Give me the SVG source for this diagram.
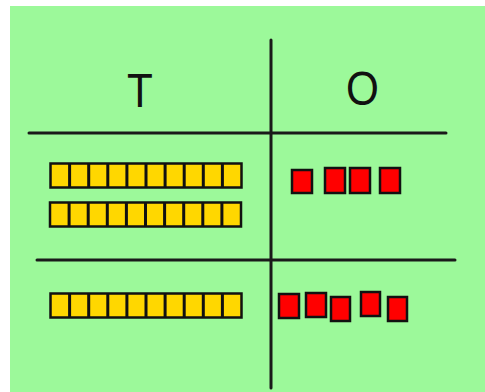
<svg xmlns="http://www.w3.org/2000/svg" width="485" height="392" viewBox="0 0 485 392">
<style>
.ln{stroke:#1a1a1a;stroke-width:3;stroke-linecap:round}
.y{fill:#ffd700;stroke:#111;stroke-width:2.5}
.r{fill:#ff0000;stroke:#111;stroke-width:2.5}
.t{font-family:"Liberation Sans",Arial,sans-serif;font-size:48px;fill:#111;text-anchor:middle}
</style>
<defs>
<g id="bar">
<rect class="y" x="0" y="0" width="191" height="24"/>
<path d="M19.1 0V24M38.2 0V24M57.3 0V24M76.4 0V24M95.5 0V24M114.6 0V24M133.7 0V24M152.8 0V24M171.9 0V24" stroke="#111" stroke-width="3"/>
</g>
</defs>
<rect x="0" y="0" width="485" height="392" fill="#ffffff"/>
<rect x="10" y="6" width="475" height="386" fill="#9cf99a"/>
<g id="connectors">
<line class="ln" x1="271" y1="40" x2="271" y2="388"/>
<line class="ln" x1="29" y1="133" x2="446" y2="133"/>
<line class="ln" x1="37" y1="260" x2="455" y2="260"/>
</g>
<g id="header-t"><text class="t" transform="translate(140,107) scale(0.88,1)">T</text></g>
<g id="header-o"><text class="t" transform="translate(362.5,105) scale(0.88,1)">O</text></g>
<g id="tens-row1">
<use href="#bar" x="50.5" y="163.5"/>
<use href="#bar" x="50" y="202.5"/>
</g>
<g id="ones-row1">
<rect class="r" x="292" y="170" width="20" height="23"/>
<rect class="r" x="325" y="168" width="20" height="25"/>
<rect class="r" x="350" y="168" width="20" height="25"/>
<rect class="r" x="380" y="168" width="20" height="25"/>
</g>
<g id="tens-row2">
<use href="#bar" x="50.5" y="293.5"/>
</g>
<g id="ones-row2">
<rect class="r" x="279" y="294" width="20" height="24"/>
<rect class="r" x="306" y="293" width="20" height="24"/>
<rect class="r" x="331" y="297" width="19" height="24"/>
<rect class="r" x="361" y="292" width="19" height="24"/>
<rect class="r" x="388" y="297" width="19" height="24"/>
</g>
</svg>
